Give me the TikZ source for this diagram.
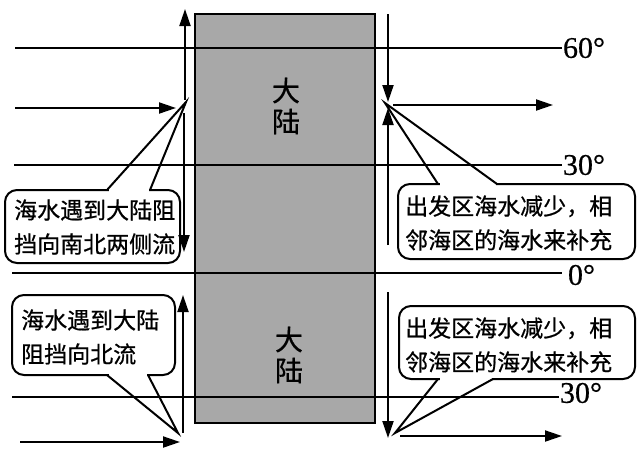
\documentclass[tikz,border=0pt]{standalone}
\usepackage{fontspec}
\setmainfont{Liberation Serif}
\newfontfamily\cjk[FakeBold=0.7]{Noto Sans CJK SC}
\newfontfamily\degfont[FakeBold=0.5]{Liberation Serif}
\usetikzlibrary{arrows.meta}
\definecolor{land}{RGB}{168,168,168}
\begin{document}
\begin{tikzpicture}[x=1pt,y=-1pt,
  lat/.style={line width=2pt},
  flow/.style={line width=2pt,-{Triangle[length=17pt,width=11pt]}},
  bubble/.style={line width=2pt, rounded corners=12pt},
  ptr/.style={line width=2pt, line join=miter},
  note/.style={font=\cjk\fontsize{23}{34}\selectfont, align=left, inner sep=0pt},
  deg/.style={font=\degfont\fontsize{30}{30}\selectfont, inner sep=0pt, anchor=west},
  landtxt/.style={font=\cjk\fontsize{28}{31}\selectfont, align=center, inner sep=0pt}]
\useasboundingbox (0,0) rectangle (640,451);

% continent
\fill[land] (195,14) rectangle (375,423);
\draw[line width=1.5pt] (195,14) rectangle (375,423);
\node[landtxt] (landA) at (286,106) {大\\陆};
\node[landtxt] (landB) at (289,355) {大\\陆};

% callout boxes
\draw[bubble] (5,190) rectangle (180,263);
\fill[white] (108.5,188) rectangle (148.5,192);
\coordinate (tipTL) at (186,102);
\draw[ptr] (107,190) -- (tipTL) -- (150,190);
\node[note, anchor=west] (noteTL) at (14,227) {海水遇到大陆阻\\挡向南北两侧流};

\draw[bubble] (398,184) rectangle (635,259);
\fill[white] (439.5,182) rectangle (495.5,186);
\coordinate (tipTR) at (385,103);
\draw[ptr] (438,184) -- (tipTR) -- (497,184);
\node[note, anchor=west] (noteTR) at (405,223) {出发区海水减少，相\\邻海区的海水来补充};

\draw[bubble] (12,295) rectangle (175,375);
\fill[white] (108.5,373) rectangle (146.5,377);
\coordinate (tipBL) at (178,433);
\draw[ptr] (107,375) -- (tipBL) -- (148,375);
\node[note, anchor=west] (noteBL) at (21,337) {海水遇到大陆\\阻挡向北流};

\draw[bubble] (399,306) rectangle (635,379);
\fill[white] (439.5,377) rectangle (491.5,381);
\coordinate (tipBR) at (395,433);
\draw[ptr] (438,379) -- (tipBR) -- (493,379);
\node[note, anchor=west] (noteBR) at (405,345) {出发区海水减少，相\\邻海区的海水来补充};

% latitude lines
\draw[lat] (15,48) -- (562,48) node[deg] (l60) {60°};
\draw[lat] (14,165) -- (562,165) node[deg] (l30n) {30°};
\draw[lat] (12,273) -- (562,273) node[deg, xshift=5pt, yshift=-2pt] (l0) {0°};
\draw[lat] (12,397) -- (559,397) node[deg, yshift=4pt] (l30s) {30°};

% flows
\coordinate (a1) at (185,100); \coordinate (a2) at (185,9);
\draw[flow] (a1) -- (a2);
\coordinate (b1) at (184,113); \coordinate (b2) at (184,252);
\draw[flow] (b1) -- (b2);
\coordinate (c1) at (15,108); \coordinate (c2) at (176,108);
\draw[flow] (c1) -- (c2);

\coordinate (d1) at (388,14); \coordinate (d2) at (388,102);
\draw[flow] (d1) -- (d2);
\coordinate (e1) at (388,245); \coordinate (e2) at (388,108);
\draw[flow] (e1) -- (e2);
\coordinate (f1) at (393,105); \coordinate (f2) at (553,105);
\draw[flow] (f1) -- (f2);

\coordinate (g1) at (183,433); \coordinate (g2) at (183,295);
\draw[flow] (g1) -- (g2);
\coordinate (h1) at (20,442); \coordinate (h2) at (180,442);
\draw[flow] (h1) -- (h2);

\coordinate (i1) at (388,292); \coordinate (i2) at (388,438);
\draw[flow] (i1) -- (i2);
\coordinate (j1) at (400,436); \coordinate (j2) at (562,436);
\draw[flow] (j1) -- (j2);
\end{tikzpicture}
\end{document}
